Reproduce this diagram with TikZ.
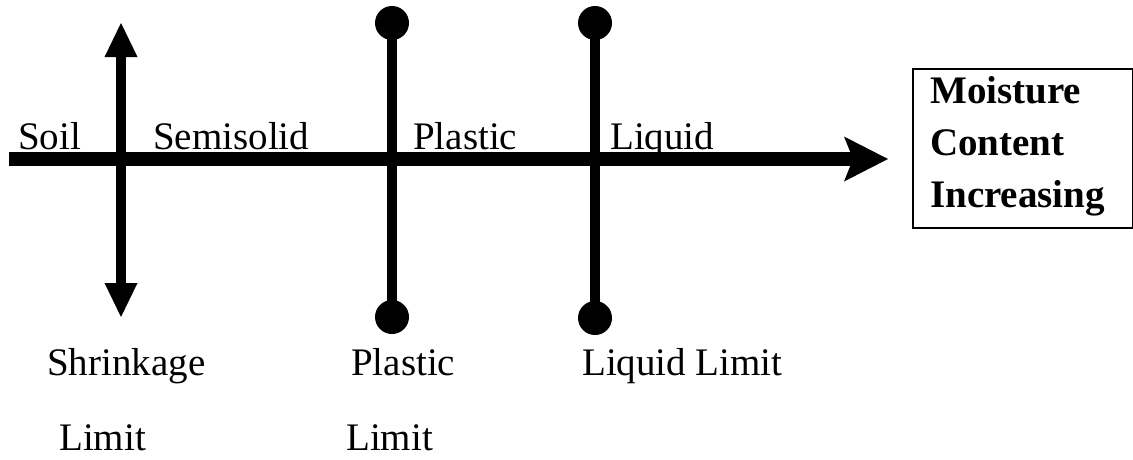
\documentclass[tikz,border=0pt]{standalone}
\usepackage{fontspec}
\setmainfont{Liberation Serif}
\usetikzlibrary{arrows.meta}
\begin{document}
\begin{tikzpicture}[x=1pt,y=-1pt,
  lbl/.style={anchor=base west,inner sep=0pt,font=\fontsize{39}{47}\selectfont},
  boxlbl/.style={anchor=base west,inner sep=0pt,font=\fontsize{39}{47}\selectfont\bfseries},
  enddot/.style={circle,fill=black,inner sep=0pt,minimum size=34pt},
  axis/.style={line width=14pt,-{Stealth[length=44pt,width=45pt,inset=9pt,line width=0pt]}},
  limitbar/.style={line width=10.5pt},
  shrinkbar/.style={line width=10.5pt,{Triangle[length=34pt,width=33pt,line width=0pt]}-{Triangle[length=34pt,width=33pt,line width=0pt]}}
]
\useasboundingbox (0,0) rectangle (1133,459);

% moisture axis
\coordinate (axstart) at (9,159);
\coordinate (axend) at (888,159);
\draw[axis] (axstart) -- (axend);

% shrinkage limit: double-headed bar
\coordinate (slt) at (121,23);
\coordinate (slb) at (121,317);
\draw[shrinkbar] (slt) -- (slb);

% plastic limit bar
\node[enddot] (plt) at (392,23) {};
\node[enddot] (plb) at (392,317) {};
\draw[limitbar] (plt.center) -- (plb.center);

% liquid limit bar
\node[enddot] (llt) at (595,23) {};
\node[enddot] (llb) at (595,318) {};
\draw[limitbar] (llt.center) -- (llb.center);

% state labels along the axis
\node[lbl] (soil) at (18,149) {Soil};
\node[lbl] (semisolid) at (153,149) {Semisolid};
\node[lbl] (plastic) at (413,149) {Plastic};
\node[lbl] (liquid) at (610,149) {Liquid};

% limit labels
\node[lbl] (shrink1) at (47,375) {Shrinkage};
\node[lbl] (shrink2) at (59,450) {Limit};
\node[lbl] (plim1) at (351,375) {Plastic};
\node[lbl] (plim2) at (346,450) {Limit};
\node[lbl] (llim) at (582,375) {Liquid Limit};

% legend box
\node[draw,line width=1.5pt,inner sep=0pt,anchor=north west,
      minimum width=220pt,minimum height=159pt] (box) at (912,68) {};
\node[boxlbl] (m1) at (930,103) {Moisture};
\node[boxlbl] (m2) at (930,155) {Content};
\node[boxlbl] (m3) at (930,207) {Increasing};
\end{tikzpicture}
\end{document}
